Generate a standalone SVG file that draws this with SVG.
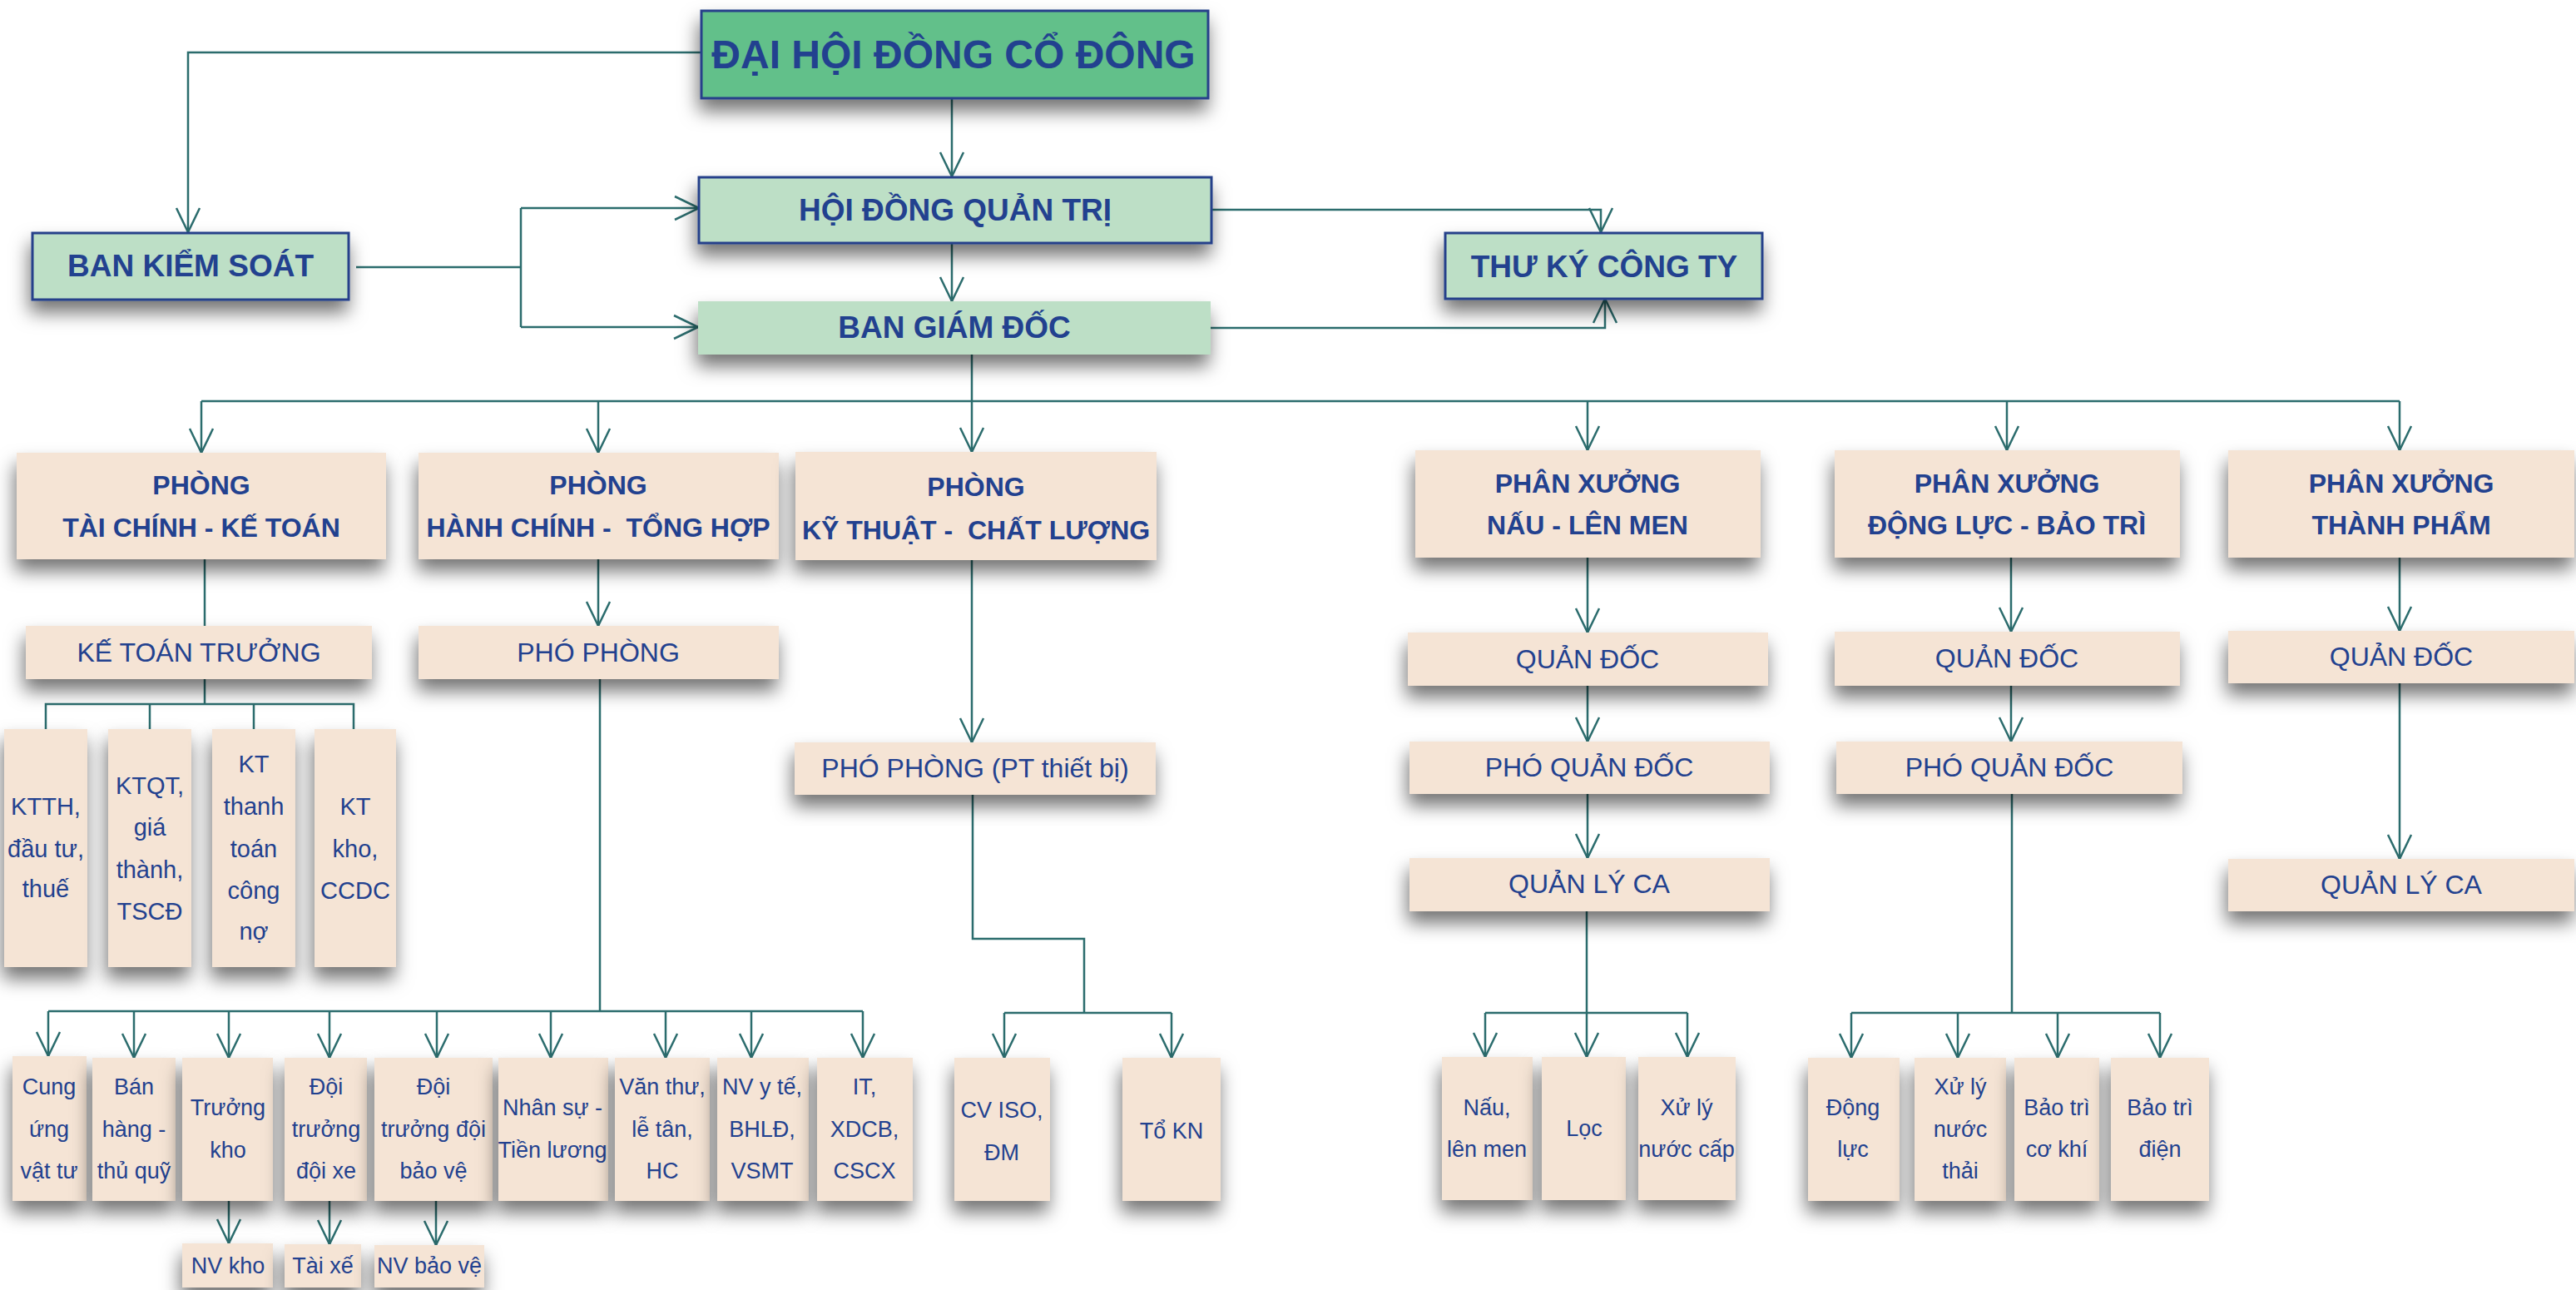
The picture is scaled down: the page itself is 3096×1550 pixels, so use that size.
<svg xmlns="http://www.w3.org/2000/svg" width="3096" height="1550" viewBox="0 0 3096 1550">
<style>
.t{font-family:"Liberation Sans",Arial,sans-serif;fill:#22418f;text-anchor:middle}
.b{font-weight:bold}
.p{fill:#f5e4d5;filter:url(#sh)}
.g{fill:#bddfc6;filter:url(#sh)}
.k{fill:#62c08a;filter:url(#sh)}
.bd{stroke:#27408a;stroke-width:3}
.c{stroke:#2b6c6d;stroke-width:2.5;fill:none}
.a{marker-end:url(#ar)}
.f48{font-size:48px}.f37{font-size:37px}.f32{font-size:32px}.f29{font-size:29px}.f27{font-size:27px}
</style>
<defs>
<filter id="sh" x="-50%" y="-40%" width="200%" height="200%">
<feDropShadow dx="-2" dy="14" stdDeviation="11" flood-color="#000" flood-opacity="0.55"/>
</filter>
<marker id="ar" markerUnits="userSpaceOnUse" markerWidth="32" markerHeight="32" viewBox="0 0 32 32" refX="30" refY="16" orient="auto">
<path d="M1,2 L30,16 L1,30" fill="none" stroke="#2b6c6d" stroke-width="2.5"/>
</marker>
</defs>
<rect width="3096" height="1550" fill="#ffffff"/>

<g id="connectors">
<path class="c a" d="M1144,118 V212"/>
<path class="c a" d="M843,63 H226 V279"/>
<path class="c" d="M428,321 H626"/>
<path class="c" d="M626,250 V393"/>
<path class="c a" d="M626,250 H840"/>
<path class="c a" d="M626,393 H839"/>
<path class="c a" d="M1144,292 V362"/>
<path class="c a" d="M1456,252 H1924 V279"/>
<path class="c a" d="M1455,394 H1929 V359"/>
<path class="c a" d="M1168,426 V543"/>
<path class="c" d="M242,482 H2884"/>
<path class="c a" d="M242,482 V544"/>
<path class="c a" d="M719,482 V544"/>
<path class="c a" d="M1908,482 V541"/>
<path class="c a" d="M2412,482 V541"/>
<path class="c a" d="M2884,482 V541"/>
<path class="c" d="M246,672 V752"/>
<path class="c" d="M246,816 V846"/>
<path class="c" d="M55,876 V846 H425 V876"/>
<path class="c" d="M180,846 V876"/>
<path class="c" d="M305,846 V876"/>
<path class="c a" d="M719,672 V752"/>
<path class="c" d="M721,816 V1215"/>
<path class="c" d="M58,1215 H1037"/>
<path class="c a" d="M58,1215 V1269"/>
<path class="c a" d="M161,1215 V1271"/>
<path class="c a" d="M275,1215 V1271"/>
<path class="c a" d="M396,1215 V1271"/>
<path class="c a" d="M525,1215 V1271"/>
<path class="c a" d="M662,1215 V1271"/>
<path class="c a" d="M800,1215 V1271"/>
<path class="c a" d="M903,1215 V1271"/>
<path class="c a" d="M1037,1215 V1271"/>
<path class="c a" d="M275,1443 V1494"/>
<path class="c a" d="M396,1443 V1495"/>
<path class="c a" d="M524,1443 V1496"/>
<path class="c a" d="M1168,673 V892"/>
<path class="c" d="M1169,955 V1128 H1303 V1217"/>
<path class="c" d="M1207,1217 H1408"/>
<path class="c a" d="M1207,1217 V1271"/>
<path class="c a" d="M1408,1217 V1271"/>
<path class="c a" d="M1908,670 V760"/>
<path class="c a" d="M1908,824 V891"/>
<path class="c a" d="M1908,954 V1031"/>
<path class="c" d="M1907,1095 V1217"/>
<path class="c" d="M1785,1217 H2028"/>
<path class="c a" d="M1785,1217 V1270"/>
<path class="c a" d="M1907,1217 V1270"/>
<path class="c a" d="M2028,1217 V1270"/>
<path class="c a" d="M2417,670 V759"/>
<path class="c a" d="M2417,824 V891"/>
<path class="c" d="M2418,954 V1217"/>
<path class="c" d="M2225,1217 H2596"/>
<path class="c a" d="M2225,1217 V1271"/>
<path class="c a" d="M2353,1217 V1271"/>
<path class="c a" d="M2473,1217 V1271"/>
<path class="c a" d="M2596,1217 V1271"/>
<path class="c a" d="M2884,670 V758"/>
<path class="c a" d="M2884,821 V1032"/>
</g>

<g id="dhcd"><rect class="k bd" x="843" y="13" width="609" height="105"/><text class="t b f48" x="1146" y="82">ĐẠI HỘI ĐỒNG CỔ ĐÔNG</text></g>
<g id="hdqt"><rect class="g bd" x="840" y="213" width="616" height="79"/><text class="t b f37" x="1148" y="265">HỘI ĐỒNG QUẢN TRỊ</text></g>
<g id="bks"><rect class="g bd" x="39" y="280" width="380" height="80"/><text class="t b f37" x="229" y="332">BAN KIỂM SOÁT</text></g>
<g id="bgd"><rect class="g" x="839" y="362" width="616" height="64"/><text class="t b f37" x="1147" y="406">BAN GIÁM ĐỐC</text></g>
<g id="tkct"><rect class="g bd" x="1737" y="280" width="381" height="79"/><text class="t b f37" x="1928" y="333">THƯ KÝ CÔNG TY</text></g>

<g id="p-tckt"><rect class="p" x="20" y="544" width="444" height="128"/><text class="t b f32" x="242" y="594">PHÒNG</text><text class="t b f32" x="242" y="645">TÀI CHÍNH - KẾ TOÁN</text></g>
<g id="p-hcth"><rect class="p" x="503" y="544" width="433" height="128"/><text class="t b f32" x="719" y="594">PHÒNG</text><text class="t b f32" x="719" y="645" xml:space="preserve">HÀNH CHÍNH -  TỔNG HỢP</text></g>
<g id="p-ktcl"><rect class="p" x="956" y="543" width="434" height="130"/><text class="t b f32" x="1173" y="596">PHÒNG</text><text class="t b f32" x="1173" y="648" xml:space="preserve">KỸ THUẬT -  CHẤT LƯỢNG</text></g>
<g id="px-nau"><rect class="p" x="1701" y="541" width="415" height="129"/><text class="t b f32" x="1908" y="592">PHÂN XƯỞNG</text><text class="t b f32" x="1908" y="642">NẤU - LÊN MEN</text></g>
<g id="px-dl"><rect class="p" x="2205" y="541" width="415" height="129"/><text class="t b f32" x="2412" y="592">PHÂN XƯỞNG</text><text class="t b f32" x="2412" y="642">ĐỘNG LỰC - BẢO TRÌ</text></g>
<g id="px-tp"><rect class="p" x="2678" y="541" width="416" height="129"/><text class="t b f32" x="2886" y="592">PHÂN XƯỞNG</text><text class="t b f32" x="2886" y="642">THÀNH PHẨM</text></g>

<g id="ktt"><rect class="p" x="31" y="752" width="416" height="64"/><text class="t f32" x="239" y="795">KẾ TOÁN TRƯỞNG</text></g>
<g id="pp-hcth"><rect class="p" x="503" y="752" width="433" height="64"/><text class="t f32" x="719" y="795">PHÓ PHÒNG</text></g>
<g id="pp-ktcl"><rect class="p" x="955" y="892" width="434" height="63"/><text class="t f32" x="1172" y="934">PHÓ PHÒNG (PT thiết bị)</text></g>
<g id="qd-nau"><rect class="p" x="1692" y="760" width="433" height="64"/><text class="t f32" x="1908" y="803">QUẢN ĐỐC</text></g>
<g id="pqd-nau"><rect class="p" x="1694" y="891" width="433" height="63"/><text class="t f32" x="1910" y="933">PHÓ QUẢN ĐỐC</text></g>
<g id="qlc-nau"><rect class="p" x="1694" y="1031" width="433" height="64"/><text class="t f32" x="1910" y="1073">QUẢN LÝ CA</text></g>
<g id="qd-dl"><rect class="p" x="2205" y="759" width="415" height="65"/><text class="t f32" x="2412" y="802">QUẢN ĐỐC</text></g>
<g id="pqd-dl"><rect class="p" x="2207" y="891" width="416" height="63"/><text class="t f32" x="2415" y="933">PHÓ QUẢN ĐỐC</text></g>
<g id="qd-tp"><rect class="p" x="2678" y="758" width="416" height="63"/><text class="t f32" x="2886" y="800">QUẢN ĐỐC</text></g>
<g id="qlc-tp"><rect class="p" x="2678" y="1032" width="416" height="63"/><text class="t f32" x="2886" y="1074">QUẢN LÝ CA</text></g>

<g id="kt-th"><rect class="p" x="5" y="876" width="100" height="286"/><text class="t f29" x="55" y="979">KTTH,</text><text class="t f29" x="55" y="1030">đầu tư,</text><text class="t f29" x="55" y="1078">thuế</text></g>
<g id="kt-qt"><rect class="p" x="130" y="876" width="100" height="286"/><text class="t f29" x="180" y="954">KTQT,</text><text class="t f29" x="180" y="1004">giá</text><text class="t f29" x="180" y="1055">thành,</text><text class="t f29" x="180" y="1105">TSCĐ</text></g>
<g id="kt-tt"><rect class="p" x="255" y="876" width="100" height="286"/><text class="t f29" x="305" y="928">KT</text><text class="t f29" x="305" y="979">thanh</text><text class="t f29" x="305" y="1030">toán</text><text class="t f29" x="305" y="1080">công</text><text class="t f29" x="305" y="1129">nợ</text></g>
<g id="kt-kho"><rect class="p" x="378" y="876" width="98" height="286"/><text class="t f29" x="427" y="979">KT</text><text class="t f29" x="427" y="1030">kho,</text><text class="t f29" x="427" y="1080">CCDC</text></g>

<g id="s-cung"><rect class="p" x="15" y="1269" width="89" height="174"/><text class="t f27" x="59" y="1315">Cung</text><text class="t f27" x="59" y="1366">ứng</text><text class="t f27" x="59" y="1416">vật tư</text></g>
<g id="s-ban"><rect class="p" x="111" y="1271" width="100" height="172"/><text class="t f27" x="161" y="1315">Bán</text><text class="t f27" x="161" y="1366">hàng -</text><text class="t f27" x="161" y="1416">thủ quỹ</text></g>
<g id="s-tk"><rect class="p" x="219" y="1271" width="109" height="172"/><text class="t f27" x="274" y="1340">Trưởng</text><text class="t f27" x="274" y="1391">kho</text></g>
<g id="s-dx"><rect class="p" x="342" y="1271" width="99" height="172"/><text class="t f27" x="392" y="1315">Đội</text><text class="t f27" x="392" y="1366">trưởng</text><text class="t f27" x="392" y="1416">đội xe</text></g>
<g id="s-bv"><rect class="p" x="450" y="1271" width="142" height="172"/><text class="t f27" x="521" y="1315">Đội</text><text class="t f27" x="521" y="1366">trưởng đội</text><text class="t f27" x="521" y="1416">bảo vệ</text></g>
<g id="s-ns"><rect class="p" x="599" y="1271" width="132" height="172"/><text class="t f27" x="664" y="1340">Nhân sự -</text><text class="t f27" x="664" y="1391">Tiền lương</text></g>
<g id="s-vt"><rect class="p" x="739" y="1271" width="114" height="172"/><text class="t f27" x="796" y="1315">Văn thư,</text><text class="t f27" x="796" y="1366">lễ tân,</text><text class="t f27" x="796" y="1416">HC</text></g>
<g id="s-yt"><rect class="p" x="862" y="1271" width="110" height="172"/><text class="t f27" x="916" y="1315">NV y tế,</text><text class="t f27" x="916" y="1366">BHLĐ,</text><text class="t f27" x="916" y="1416">VSMT</text></g>
<g id="s-it"><rect class="p" x="982" y="1271" width="115" height="172"/><text class="t f27" x="1039" y="1315">IT,</text><text class="t f27" x="1039" y="1366">XDCB,</text><text class="t f27" x="1039" y="1416">CSCX</text></g>
<g id="s-nvkho"><rect class="p" x="219" y="1494" width="109" height="53"/><text class="t f27" x="274" y="1530">NV kho</text></g>
<g id="s-taixe"><rect class="p" x="342" y="1495" width="92" height="52"/><text class="t f27" x="388" y="1530">Tài xế</text></g>
<g id="s-nvbv"><rect class="p" x="450" y="1496" width="132" height="51"/><text class="t f27" x="516" y="1530">NV bảo vệ</text></g>

<g id="s-iso"><rect class="p" x="1147" y="1271" width="115" height="172"/><text class="t f27" x="1204" y="1343">CV ISO,</text><text class="t f27" x="1204" y="1394">ĐM</text></g>
<g id="s-kn"><rect class="p" x="1349" y="1271" width="118" height="172"/><text class="t f27" x="1408" y="1368">Tổ KN</text></g>

<g id="s-nau"><rect class="p" x="1733" y="1270" width="109" height="172"/><text class="t f27" x="1787" y="1340">Nấu,</text><text class="t f27" x="1787" y="1390">lên men</text></g>
<g id="s-loc"><rect class="p" x="1853" y="1270" width="101" height="172"/><text class="t f27" x="1904" y="1365">Lọc</text></g>
<g id="s-xlnc"><rect class="p" x="1969" y="1270" width="117" height="172"/><text class="t f27" x="2027" y="1340">Xử lý</text><text class="t f27" x="2027" y="1390">nước cấp</text></g>

<g id="s-dongluc"><rect class="p" x="2173" y="1271" width="110" height="172"/><text class="t f27" x="2227" y="1340">Động</text><text class="t f27" x="2227" y="1390">lực</text></g>
<g id="s-xlnt"><rect class="p" x="2301" y="1271" width="110" height="172"/><text class="t f27" x="2356" y="1315">Xử lý</text><text class="t f27" x="2356" y="1366">nước</text><text class="t f27" x="2356" y="1416">thải</text></g>
<g id="s-btck"><rect class="p" x="2421" y="1271" width="102" height="172"/><text class="t f27" x="2472" y="1340">Bảo trì</text><text class="t f27" x="2472" y="1390">cơ khí</text></g>
<g id="s-btd"><rect class="p" x="2537" y="1271" width="118" height="172"/><text class="t f27" x="2596" y="1340">Bảo trì</text><text class="t f27" x="2596" y="1390">điện</text></g>
</svg>
